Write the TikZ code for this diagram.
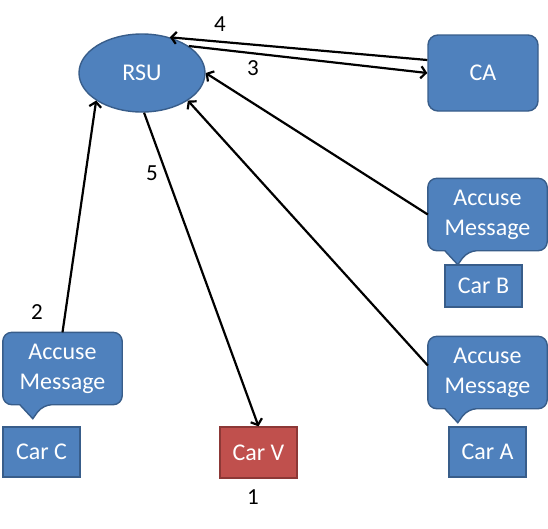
\documentclass[tikz,border=0pt]{standalone}
\usepackage{fontspec}
\setmainfont{Carlito}
\usetikzlibrary{shapes.geometric,arrows.meta}
\definecolor{fillblue}{HTML}{4F81BD}
\definecolor{edgeblue}{HTML}{385D8A}
\definecolor{fillred}{HTML}{C0504D}
\definecolor{edgered}{HTML}{8C3836}
\newcommand{\mycallout}[1]{%
  \draw[calloutshape] (#1.north) [rounded corners=9pt] -- (#1.north east) -- (#1.south east) -- ([xshift=40pt]#1.south west)
    [sharp corners] -- ([xshift=30pt,yshift=-14pt]#1.south west) -- ([xshift=17pt]#1.south west)
    [rounded corners=9pt] -- (#1.south west) -- (#1.north west) -- cycle;}
\begin{document}
\begin{tikzpicture}[x=1pt,y=-1pt,
  txt/.style={text=white,font=\fontsize{24}{30}\selectfont},
  carbox/.style={txt,draw=edgeblue,fill=fillblue,line width=1.4pt,minimum width=77pt,inner sep=0pt},
  badcar/.style={carbox,draw=edgered,fill=fillred},
  calloutshape/.style={draw=edgeblue,fill=fillblue,line width=1.4pt},
  callouttext/.style={txt,align=center,minimum width=119pt,minimum height=72pt,inner sep=0pt},
  conn/.style={line width=2.2pt,-{Straight Barb[length=5pt,width=12pt,line width=2.2pt]}},
  num/.style={font=\fontsize{23}{26}\selectfont,text=black}]
\useasboundingbox (0,0) rectangle (548,528);

% main nodes
\node[txt,ellipse,draw=edgeblue,fill=fillblue,line width=1.4pt,minimum width=126pt,minimum height=78pt,inner sep=0pt] (rsu) at (142,73) {RSU};
\node[txt,draw=edgeblue,fill=fillblue,line width=1.4pt,rounded corners=10pt,minimum width=110pt,minimum height=76pt,inner sep=0pt] (ca) at (483,73) {CA};

% cars
\node[carbox,minimum height=50pt] (carc) at (41.5,452) {Car C};
\node[badcar,minimum height=51pt] (carv) at (258.5,452.5) {Car V};
\node[carbox,minimum height=42pt] (carb) at (483.5,286) {Car B};
\node[carbox,minimum height=50pt] (cara) at (487.5,452) {Car A};

% callouts
\node[callouttext] (msgc) at (62.5,368.5) {};
\node[callouttext] (msgb) at (487.5,214.5) {};
\node[callouttext] (msga) at (487.5,372.5) {};
\mycallout{msgc}
\mycallout{msgb}
\mycallout{msga}
\node[callouttext] at (msgc) {Accuse\\Message};
\node[callouttext] at (msgb) {Accuse\\Message};
\node[callouttext] at (msga) {Accuse\\Message};

% connectors
\draw[conn] ([yshift=13pt]ca.west) -- (rsu.52);
\draw[conn] (rsu.30) -- (ca.west);
\draw[conn] (msgc.north) -- (rsu.-149);
\draw[conn] (msgb.west) -- (rsu.east);
\draw[conn] ([yshift=7pt]msga.west) -- (rsu.-31);
\draw[conn] (rsu.-87) -- (carv.north);

% numbers
\node[num] (n1) at (253,497) {1};
\node[num] (n2) at (37,312) {2};
\node[num] (n3) at (253,68) {3};
\node[num] (n4) at (220,24) {4};
\node[num] (n5) at (152,173) {5};
\end{tikzpicture}
\end{document}
